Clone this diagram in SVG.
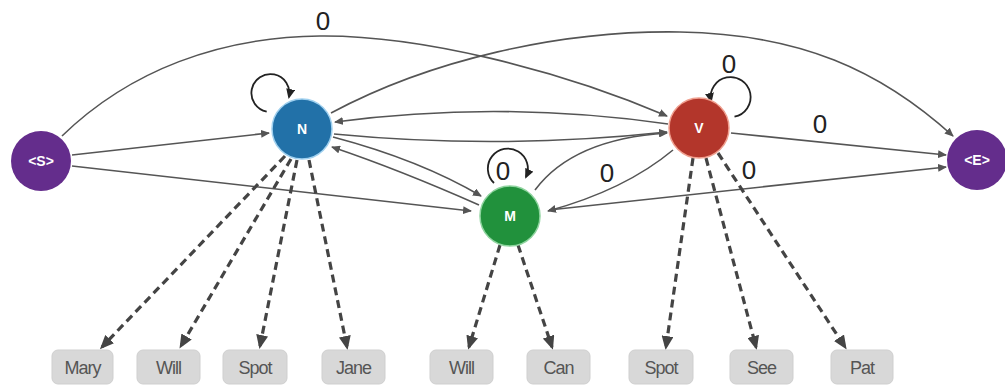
<svg xmlns="http://www.w3.org/2000/svg" width="1005" height="387" viewBox="0 0 1005 387">
<style>
.e{fill:none;stroke:#555;stroke-width:1.6}
.loop{fill:none;stroke:#222;stroke-width:1.8}
.d{fill:none;stroke:#444;stroke-width:3.2;stroke-dasharray:8 5}
.lbl{font-family:"Liberation Sans",Arial,sans-serif;font-size:26px;fill:#222;text-anchor:middle}
.nt{font-family:"Liberation Sans",Arial,sans-serif;font-size:14px;font-weight:bold;fill:#fff;text-anchor:middle}
.box{fill:#d8d8d8;stroke:#cfcfcf;stroke-width:1}
.wt{font-family:"Liberation Sans",Arial,sans-serif;font-size:18px;fill:#555;text-anchor:middle;letter-spacing:-1px}
</style>
<defs>
<marker id="a" markerUnits="userSpaceOnUse" markerWidth="9" markerHeight="8" refX="8" refY="4" orient="auto"><path d="M0,0 L9,4 L0,8 z" fill="#555"/></marker>
<marker id="al" markerUnits="userSpaceOnUse" markerWidth="10" markerHeight="9" refX="8" refY="4.5" orient="auto"><path d="M0,0 L10,4.5 L0,9 z" fill="#222"/></marker>
<marker id="ad" markerUnits="userSpaceOnUse" markerWidth="14" markerHeight="12" refX="11" refY="6" orient="auto"><path d="M0,0 L14,6 L0,12 z" fill="#444"/></marker>
</defs>
<rect width="1005" height="387" fill="#fff"/>
<g id="connectors">
<path class="e" marker-end="url(#a)" d="M62 136 C130 70,220 37,320 36 C420 35,560 70,667 116"/>
<path class="e" marker-end="url(#a)" d="M331 113 C430 60,560 30,680 32 C800 34,880 70,953 136"/>
<path class="e" marker-end="url(#a)" d="M72 155 L269 133"/>
<path class="e" marker-end="url(#a)" d="M72 166 L471 211"/>
<path class="e" marker-end="url(#a)" d="M668 124 Q500 100 335 122"/>
<path class="e" marker-end="url(#a)" d="M334 134 Q500 150 667 132"/>
<path class="e" marker-end="url(#a)" d="M333 137 Q420 160 481 196"/>
<path class="e" marker-end="url(#a)" d="M479 205 Q400 170 332 147"/>
<path class="e" marker-end="url(#a)" d="M535 190 Q573 139 667 133"/>
<path class="e" marker-end="url(#a)" d="M673 150 Q625 190 548 211"/>
<path class="e" marker-end="url(#a)" d="M549 210 L946 167"/>
<path class="e" marker-end="url(#a)" d="M731 133 L946 155"/>
<path class="loop" marker-end="url(#al)" d="M266.7 111.7 A19 19 0 1 1 289 97"/>
<path class="loop" marker-end="url(#al)" d="M734.5 116.7 A20 20 0 1 0 711 101"/>
<path class="loop" marker-end="url(#al)" d="M494 183 A20 20 0 1 1 526 177"/>
<path class="d" marker-end="url(#ad)" d="M285 156 L102 347"/>
<path class="d" marker-end="url(#ad)" d="M291 159 L181 346"/>
<path class="d" marker-end="url(#ad)" d="M297 160 L260 346"/>
<path class="d" marker-end="url(#ad)" d="M309 160 L347 347"/>
<path class="d" marker-end="url(#ad)" d="M500 245 L469 347"/>
<path class="d" marker-end="url(#ad)" d="M518 245 L552 347"/>
<path class="d" marker-end="url(#ad)" d="M693 158 L666 347"/>
<path class="d" marker-end="url(#ad)" d="M706 158 L756 347"/>
<path class="d" marker-end="url(#ad)" d="M718 153 L845 347"/>
<text class="lbl" x="323" y="30">0</text>
<text class="lbl" x="729" y="73">0</text>
<text class="lbl" x="820" y="133">0</text>
<text class="lbl" x="749" y="179">0</text>
<text class="lbl" x="607" y="182">0</text>
<text class="lbl" x="503" y="180">0</text>
</g>
<g id="node-S"><circle cx="41" cy="161" r="30" fill="#642d8c"/><text class="nt" x="41" y="166">&lt;S&gt;</text></g>
<g id="node-N"><circle cx="302" cy="129" r="30" fill="#2271a8" stroke="#9fd0ef" stroke-width="1.5"/><text class="nt" x="302" y="134">N</text></g>
<g id="node-V"><circle cx="699" cy="128" r="30" fill="#b3362b" stroke="#f0a090" stroke-width="1.5"/><text class="nt" x="699" y="133">V</text></g>
<g id="node-M"><circle cx="510" cy="216" r="30" fill="#21913c" stroke="#8fd49f" stroke-width="1.5"/><text class="nt" x="510" y="221">M</text></g>
<g id="node-E"><circle cx="977" cy="160" r="30" fill="#642d8c"/><text class="nt" x="977" y="165">&lt;E&gt;</text></g>
<g id="word-Mary"><rect class="box" x="52" y="350" width="61" height="34" rx="6"/><text class="wt" x="82.5" y="374">Mary</text></g>
<g id="word-Will-N"><rect class="box" x="137" y="350" width="63" height="34" rx="6"/><text class="wt" x="168.5" y="374">Will</text></g>
<g id="word-Spot-N"><rect class="box" x="223" y="350" width="64" height="34" rx="6"/><text class="wt" x="255" y="374">Spot</text></g>
<g id="word-Jane"><rect class="box" x="322" y="350" width="63" height="34" rx="6"/><text class="wt" x="353.5" y="374">Jane</text></g>
<g id="word-Will-M"><rect class="box" x="430" y="350" width="63" height="34" rx="6"/><text class="wt" x="461.5" y="374">Will</text></g>
<g id="word-Can"><rect class="box" x="527" y="350" width="63" height="34" rx="6"/><text class="wt" x="558.5" y="374">Can</text></g>
<g id="word-Spot-V"><rect class="box" x="629" y="350" width="64" height="34" rx="6"/><text class="wt" x="661" y="374">Spot</text></g>
<g id="word-See"><rect class="box" x="730" y="350" width="63" height="34" rx="6"/><text class="wt" x="761.5" y="374">See</text></g>
<g id="word-Pat"><rect class="box" x="831" y="350" width="62" height="34" rx="6"/><text class="wt" x="862" y="374">Pat</text></g>
</svg>
